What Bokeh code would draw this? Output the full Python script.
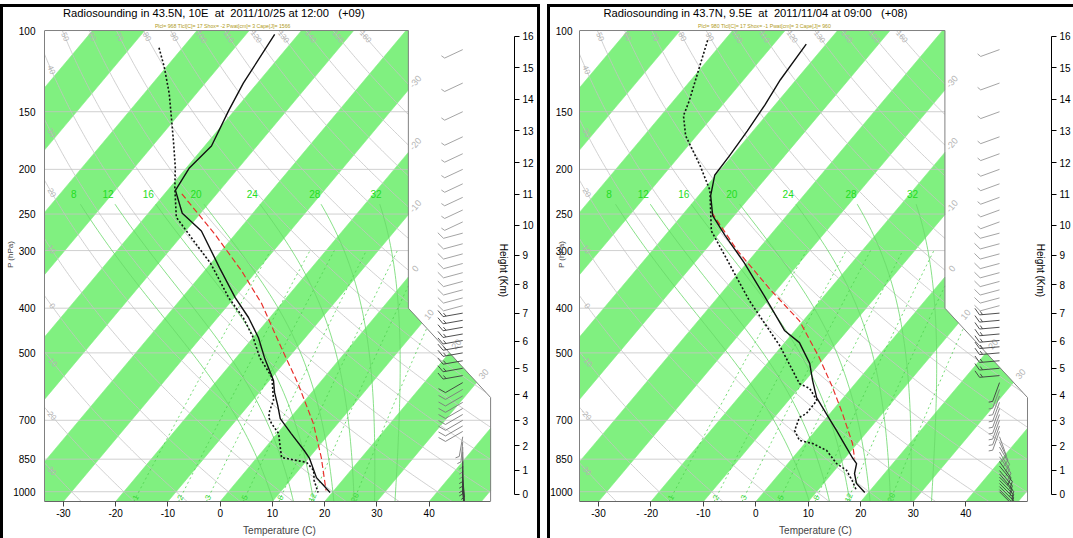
import numpy as np
from bokeh.plotting import figure
from bokeh.models import Range1d, FixedTicker, LogAxis, CustomJSTickFormatter, NumeralTickFormatter
from bokeh.layouts import row
from bokeh.embed import file_html
from bokeh.resources import INLINE
from bokeh.core.properties import value

FONT = "Liberation Sans"
NB = "\u00a0"

# ---------------------------------------------------------------- data
title_1 = "Radiosounding in 43.5N, 10E " + NB + "at " + NB + "2011/10/25 at 12:00 " + NB + NB + "(+09)"
info_1 = "Plcl= 968 Tlcl[C]= 17 Shox= -2 Pwat[cm]= 3 Cape[J]= 1566"
temp_p_1 = [102, 130, 149, 178, 199, 222, 249, 272, 327, 379, 419, 463, 512, 574, 609, 650, 694, 748, 814, 847, 932, 1004]
temp_t_1 = [-64.5, -62.7, -61.1, -58.7, -59.4, -58.5, -53.5, -47.0, -37.6, -29.9, -24.1, -19.0, -14.6, -9.2, -7.1, -4.4, -1.8, 2.7, 7.9, 10.2, 14.6, 19.6]
dew_p_1 = [109, 120, 137, 155, 176, 198, 220, 254, 290, 320, 380, 420, 463, 512, 565, 634, 667, 690, 711, 748, 786, 843, 864, 899, 945, 1004]
dew_t_1 = [-84.5, -80.4, -75.2, -70.8, -66.3, -62.2, -58.9, -54.0, -46.0, -40.0, -31.0, -25.0, -20.0, -15.5, -10.0, -6.0, -5.1, -4.2, -2.7, 0.3, 2.1, 4.7, 10.3, 12.9, 14.6, 17.3]
parcel_p_1 = [226, 276, 332, 391, 487, 583, 711, 843, 994]
parcel_t_1 = [-56.7, -44.0, -32.9, -23.8, -13.0, -4.0, 5.3, 12.3, 18.5]
wind_p_1 = [110, 130, 150, 170, 185, 200, 215, 230, 245, 260, 275, 290, 305, 320, 335, 350, 365, 380, 395,
            410, 425, 440, 455, 470, 485, 500, 520, 540, 560, 580, 600, 620, 640, 660, 680, 700, 720, 740,
            760, 780, 800, 820, 840, 860, 880, 900, 915, 930, 945, 960, 975, 990, 1000]
wind_s_1 = [5, 5, 5, 5, 5, 5, 5, 5, 5, 5, 10, 10, 10, 10, 10, 10, 10, 10, 10,
            15, 15, 15, 15, 15, 15, 15, 15, 15, 15, 10, 10, 10, 10, 10, 10, 10, 10, 10,
            5, 5, 5, 5, 5, 5, 5, 5, 5, 5, 5, 5, 5, 5, 5]
wind_d_1 = [245, 245, 245, 245, 245, 245, 245, 245, 245, 245, 255, 255, 255, 255, 255, 255, 255, 255, 255,
            260, 260, 260, 260, 260, 260, 260, 260, 260, 260, 240, 240, 240, 240, 240, 240, 240, 240, 240,
            190, 185, 180, 180, 180, 180, 180, 180, 180, 175, 175, 175, 175, 175, 175]

title_2 = "Radiosounding in 43.7N, 9.5E " + NB + "at " + NB + "2011/11/04 at 09:00 " + NB + NB + "(+08)"
info_2 = "Plcl= 980 Tlcl[C]= 17 Shox= -1 Pwat[cm]= 3 Cape[J]= 960"
temp_p_2 = [107, 128, 145, 165, 187, 206, 228, 252, 278, 319, 376, 447, 475, 527, 574, 625, 677, 737, 802, 843, 869, 913, 960, 1004]
temp_t_2 = [-63.8, -63.0, -61.9, -61.1, -60.5, -60.2, -57.7, -54.1, -48.6, -40.5, -31.4, -22.0, -17.2, -11.9, -8.6, -5.1, -0.7, 4.0, 8.6, 11.3, 13.1, 14.3, 16.3, 19.3]
dew_p_2 = [105, 142, 153, 169, 196, 222, 272, 385, 482, 583, 597, 634, 677, 690, 737, 774, 786, 814, 869, 899, 946, 994]
dew_t_2 = [-83.2, -77.0, -75.7, -72.1, -64.6, -58.7, -51.9, -33.5, -20.5, -10.6, -7.9, -4.6, -4.5, -5.2, -4.0, -1.5, 1.5, 5.3, 9.3, 12.3, 15.0, 17.4]
parcel_p_2 = [248, 300, 366, 426, 512, 594, 677, 786, 847]
parcel_t_2 = [-54.8, -43.8, -31.0, -20.7, -11.0, -3.7, 2.4, 9.1, 11.9]
wind_p_2 = wind_p_1
wind_s_2 = [5, 5, 5, 5, 5, 5, 5, 5, 5, 5, 10, 10, 10, 10, 10, 10, 10, 10, 10,
            15, 15, 15, 15, 15, 15, 15, 15, 15, 15, 5, 5, 5, 5, 5, 5, 5, 5, 5,
            10, 10, 10, 10, 10, 10, 10, 10, 10, 10, 10, 10, 10, 10, 10]
wind_d_2 = [250, 250, 250, 250, 250, 250, 250, 250, 250, 250, 255, 255, 255, 255, 255, 255, 255, 255, 255,
            265, 265, 265, 265, 265, 265, 265, 265, 265, 265, 200, 200, 200, 200, 200, 200, 200, 200, 200,
            160, 155, 150, 150, 145, 145, 140, 140, 140, 135, 135, 135, 135, 135, 135]

pressure_ticks = [100, 150, 200, 250, 300, 400, 500, 700, 850, 1000]
temperature_ticks = [-30, -20, -10, 0, 10, 20, 30, 40]
height_ticks_km = list(range(0, 17))
dry_adiabats_c = list(range(-30, 170, 10))
moist_adiabats_c = [8, 12, 16, 20, 24, 28, 32]
mixing_ratios = [1, 2, 3, 5, 8, 12, 20]
isotherm_labels = [-30, -20, -10, 0, 10, 20, 30]
band_starts = list(range(-120, 60, 20))

# ---------------------------------------------------------------- skew-T geometry (NCL)
P_BOT, P_TOP_BOX = 1050.0, 100.0
FW, FH = 472, 494          # frame size in px
SX = 9.718                 # px per skew-x unit
XL = -19.0
XR = XL + FW / SX
SY = 200.3                 # px per ln(p)
P_TOP = P_TOP_BOX * np.exp(-(FH - SY * np.log(P_BOT / P_TOP_BOX)) / SY)
P_MOIST_LABEL = 226.0


def ysk(p):
    return 132.182 - 44.061 * np.log10(p)


def xsk(t, p):
    return 0.54 * np.asarray(t, dtype=float) + 0.90692 * ysk(np.asarray(p, dtype=float))


def p_of_y(y):
    return 10 ** ((132.182 - np.asarray(y, dtype=float)) / 44.061)


YMIN, YMAX = ysk(P_BOT), ysk(P_TOP_BOX)
XB_R, XB_N, Y_D0, Y_D1 = 27.1, 18.6, 9.0, 17.53
SYU = SY * np.log(10) / 44.061   # px per skew-y unit


def xr_of(y):
    if y <= Y_D0:
        return XB_R
    if y >= Y_D1:
        return XB_N
    return XB_R + (XB_N - XB_R) * (y - Y_D0) / (Y_D1 - Y_D0)


def inside(x, y):
    e = 1e-9
    return (YMIN - e <= y <= YMAX + e) and (XL - e <= x <= xr_of(y) + e)


def clip_polyline(xs, ys):
    segs, cur = [], []
    for i in range(len(xs)):
        x, y = xs[i], ys[i]
        ins = inside(x, y)
        if i > 0:
            x0, y0 = xs[i - 1], ys[i - 1]
            pins = inside(x0, y0)
            if ins != pins:
                a, b = 0.0, 1.0
                for _ in range(40):
                    m = 0.5 * (a + b)
                    if inside(x0 + (x - x0) * m, y0 + (y - y0) * m) == pins:
                        a = m
                    else:
                        b = m
                m = a if pins else b
                cp = (x0 + (x - x0) * m, y0 + (y - y0) * m)
                if pins:
                    cur.append(cp)
                    segs.append(cur)
                    cur = []
                else:
                    cur = [cp]
        if ins:
            cur.append((x, y))
    if cur:
        segs.append(cur)
    return [s for s in segs if len(s) > 1]


def clip_convex(poly, clip):
    out = list(poly)
    n = len(clip)
    for i in range(n):
        a, b = clip[i], clip[(i + 1) % n]

        def side(q):
            return (b[0] - a[0]) * (q[1] - a[1]) - (b[1] - a[1]) * (q[0] - a[0])
        inp, out = out, []
        if not inp:
            break
        s = inp[-1]
        for e in inp:
            se, ss = side(e), side(s)
            if se >= 0:
                if ss < 0:
                    t = ss / (ss - se)
                    out.append((s[0] + t * (e[0] - s[0]), s[1] + t * (e[1] - s[1])))
                out.append(e)
            elif ss >= 0:
                t = ss / (ss - se)
                out.append((s[0] + t * (e[0] - s[0]), s[1] + t * (e[1] - s[1])))
            s = e
    return out


LOWER = [(XL, YMIN), (XB_R, YMIN), (XB_R, Y_D0), (XB_N, Y_D1), (XL, Y_D1)]
UPPER = [(XL, Y_D1), (XB_N, Y_D1), (XB_N, YMAX), (XL, YMAX)]


def moist_curve(tw, plist, p0=1000.0):
    Rd, cp, Lv, eps = 287.04, 1005.7, 2.501e6, 0.622

    def f(T, lnp):
        p = np.exp(lnp)
        Tc = T - 273.15
        e = 6.112 * np.exp(17.67 * Tc / (Tc + 243.5))
        r = eps * e / (p - e)
        return (Rd * T + Lv * r) / (cp + Lv * Lv * r * eps / (Rd * T * T))
    res = []
    for pt in plist:
        T = tw + 273.15
        l0, l1 = np.log(p0), np.log(pt)
        n = 40
        h = (l1 - l0) / n
        l = l0
        for _ in range(n):
            k1 = f(T, l)
            k2 = f(T + 0.5 * h * k1, l + 0.5 * h)
            k3 = f(T + 0.5 * h * k2, l + 0.5 * h)
            k4 = f(T + h * k3, l + h)
            T += h * (k1 + 2 * k2 + 2 * k3 + k4) / 6
            l += h
        res.append(T - 273.15)
    return np.array(res)


def td_of_w(w, p):
    e = w * p / (622.0 + w)
    a = np.log(e / 6.112)
    return 243.5 * a / (17.67 - a)


def std_p(z_km):
    z = z_km * 1000.0
    if z <= 11000:
        return 1013.25 * (1 - 0.0065 * z / 288.15) ** 5.2559
    return 226.32 * np.exp(-(z - 11000) / 6341.6)


GREEN_BAND = "#80f080"
GRAY_LINE = "#c4c4c4"


def barb_segments(xb, pb, spd, ddir, L=20.0, F=8.0):
    th = np.deg2rad(ddir)
    ux, uy = np.sin(th), np.cos(th)
    px_, py_ = uy, -ux
    fx, fy = 0.85 * px_ + 0.5 * ux, 0.85 * py_ + 0.5 * uy
    nrm = np.hypot(fx, fy)
    fx, fy = fx / nrm, fy / nrm
    segs = [[(0.0, 0.0), (ux * L, uy * L)]]
    s = int(round(spd / 5.0)) * 5
    pos = L
    while s >= 50:
        segs.append([(ux * pos, uy * pos), (ux * pos + F * px_, uy * pos + F * py_), (ux * (pos - 4), uy * (pos - 4))])
        pos -= 5
        s -= 50
    while s >= 10:
        segs.append([(ux * pos, uy * pos), (ux * pos + F * fx, uy * pos + F * fy)])
        pos -= 3
        s -= 10
    if s >= 5:
        segs.append([(ux * pos, uy * pos), (ux * pos + 0.5 * F * fx, uy * pos + 0.5 * F * fy)])
    xs, ys = [], []
    for sg in segs:
        xs.append([xb + dx / SX for dx, dy in sg])
        ys.append([pb * np.exp(-dy / SY) for dx, dy in sg])
    return xs, ys


def make_panel(title, info, tp, tt, dp, dt, pp, pt, wp, ws, wd, width, left, right, lab_standoff,
               axlab_standoff, border, title_off):
    fig = figure(width=width, height=534, x_range=Range1d(XL, XR), y_range=Range1d(P_BOT, P_TOP),
                 y_axis_type="log", output_backend="svg", toolbar_location=None,
                 min_border_left=left, min_border_right=right, min_border_top=0,
                 min_border_bottom=534 - FH, outline_line_color=None, styles=border)
    fig.grid.visible = False

    # isotherm bands
    bx, by = [], []
    for t0 in band_starts:
        poly = [(0.54 * t0 + 0.90692 * YMIN, YMIN), (0.54 * (t0 + 10) + 0.90692 * YMIN, YMIN),
                (0.54 * (t0 + 10) + 0.90692 * YMAX, YMAX), (0.54 * t0 + 0.90692 * YMAX, YMAX)]
        for piece in (LOWER, UPPER):
            c = clip_convex(poly, piece)
            if len(c) >= 3:
                bx.append([q[0] for q in c])
                by.append(list(p_of_y([q[1] for q in c])))
    fig.patches(bx, by, fill_color=GREEN_BAND, line_color=GREEN_BAND, line_width=0.6)

    # isobars
    ix, iy = [], []
    for pr in pressure_ticks[1:]:
        ix.append([XL, xr_of(ysk(pr))])
        iy.append([pr, pr])
    fig.multi_line(ix, iy, line_color=GRAY_LINE, line_width=0.8)

    # dry adiabats
    plin = np.exp(np.linspace(np.log(P_BOT), np.log(P_TOP_BOX), 300))
    dx_, dy_ = [], []
    lab_x, lab_y, lab_t, lab_a = [], [], [], []
    for th in dry_adiabats_c:
        tc = (th + 273.15) * (plin / 1000.0) ** 0.2857 - 273.15
        segs = clip_polyline(list(xsk(tc, plin)), list(ysk(plin)))
        for s in segs:
            dx_.append([q[0] for q in s])
            dy_.append(list(p_of_y([q[1] for q in s])))
        if segs:
            s = segs[-1]
            ex, ey = s[-1]
            xs_ = np.array([q[0] for q in s])
            ys_ = np.array([q[1] for q in s])
            if abs(ex - XL) < 1e-6:
                target = XL + 7.0 / SX
                k = np.argmin(np.abs(xs_ - target))
            else:
                target = YMAX - 7.0 / SYU
                k = np.argmin(np.abs(ys_ - target))
            k = max(1, min(k, len(s) - 1))
            ang = np.arctan2((ys_[k - 1] - ys_[k]) * SYU, (xs_[k - 1] - xs_[k]) * SX)
            lab_x.append(xs_[k])
            lab_y.append(float(p_of_y(ys_[k])))
            lab_t.append(str(th))
            lab_a.append(float(ang))
    fig.multi_line(dx_, dy_, line_color=GRAY_LINE, line_width=0.8)
    fig.text(lab_x, lab_y, text=lab_t, angle=lab_a, text_font=value(FONT), text_font_size="8px",
             text_color="#b4b4b4", text_align="center", text_baseline="middle")

    # mixing ratio lines
    pmix = np.exp(np.linspace(np.log(P_BOT), np.log(300.0), 120))
    mx, my = [], []
    mlx, mly, mlt, mla = [], [], [], []
    for w in mixing_ratios:
        td = td_of_w(w, pmix)
        for s in clip_polyline(list(xsk(td, pmix)), list(ysk(pmix))):
            mx.append([q[0] for q in s])
            my.append(list(p_of_y([q[1] for q in s])))
        pl = 1030.0
        x0 = float(xsk(td_of_w(w, pl), pl))
        x1 = float(xsk(td_of_w(w, pl * 0.97), pl * 0.97))
        ang = np.arctan2(np.log(1 / 0.97) * SY, (x1 - x0) * SX)
        mlx.append(x0)
        mly.append(pl)
        mlt.append(str(w))
        mla.append(float(ang))
    fig.multi_line(mx, my, line_color="#4cd04c", line_width=0.8, line_dash="2 3")
    fig.text(mlx, mly, text=mlt, angle=mla, text_font=value(FONT), text_font_size="8px",
             text_color="#3ad83a", text_align="center", text_baseline="middle")

    # moist adiabats
    pm = np.exp(np.linspace(np.log(P_BOT), np.log(238.0), 80))
    qx, qy = [], []
    qlx, qly, qlt = [], [], []
    for tw in moist_adiabats_c:
        tm = moist_curve(tw, pm)
        for s in clip_polyline(list(xsk(tm, pm)), list(ysk(pm))):
            qx.append([q[0] for q in s])
            qy.append(list(p_of_y([q[1] for q in s])))
        tl = moist_curve(tw, [P_MOIST_LABEL])[0]
        qlx.append(float(xsk(tl, P_MOIST_LABEL)))
        qly.append(P_MOIST_LABEL)
        qlt.append(str(tw))
    fig.multi_line(qx, qy, line_color="#6ad86a", line_width=0.8)
    fig.text(qlx, qly, text=qlt, text_font=value(FONT), text_font_size="10px",
             text_color="#22dd22", text_align="center", text_baseline="middle")

    # isotherm labels along right boundary
    ilx, ily, ilt = [], [], []
    iang = np.arctan2(SYU, 0.90692 * SX)
    dist = 11.0 / np.hypot(SYU, 0.90692 * SX)
    for t in isotherm_labels:
        y = (XB_N - 0.54 * t) / 0.90692
        if not (Y_D1 <= y <= YMAX):
            tt_ = (0.54 * t + 0.90692 * Y_D0 - XB_R) / (XB_N - XB_R - 0.90692 * (Y_D1 - Y_D0))
            y = Y_D0 + (Y_D1 - Y_D0) * tt_
        y2 = y + dist
        ilx.append(0.54 * t + 0.90692 * y2)
        ily.append(float(p_of_y(y2)))
        ilt.append(str(t))
    fig.text(ilx, ily, text=ilt, angle=float(iang), text_font=value(FONT), text_font_size="9px",
             text_color="#b4b4b4", text_align="center", text_baseline="middle")

    # outline (right part)
    ox = [XB_R, XB_R, XB_N, XB_N, XL]
    oy = list(p_of_y([YMIN, Y_D0, Y_D1, YMAX, YMAX]))
    fig.line(ox, oy, line_color="#808080", line_width=1)

    # sounding
    fig.line(list(xsk(pt, pp)), pp, line_color="#e8302c", line_width=1.2, line_dash="6 3")
    fig.line(list(xsk(dt, dp)), dp, line_color="#111111", line_width=1.6, line_dash="2 2")
    fig.line(list(xsk(tt, tp)), tp, line_color="#111111", line_width=1.4)

    # wind barbs
    wx, wy, wc = [], [], []
    xb = XL + (462 - 42) / SX
    for prs, sp, dd in zip(wp, ws, wd):
        a, b = barb_segments(xb, prs, sp, dd)
        wx += a
        wy += b
        col = "#9a9a9a" if prs < 400 else ("#3c3c3c" if prs < 600 or prs >= 850 else "#7a7a7a")
        wc += [col] * len(a)
    fig.multi_line(wx, wy, line_color=wc, line_width=0.9)

    # texts
    fig.text([XL + title_off / SX], [P_TOP * np.exp(5 / SY)], text=[title], text_font=value(FONT),
             text_font_size="11.2px", text_color="black", text_align="center", text_baseline="middle")
    fig.text([XL + (title_off + 9) / SX], [P_TOP * np.exp(18 / SY)], text=[info], text_font=value(FONT),
             text_font_size="5.2px", text_color="#b09a1a", text_align="center", text_baseline="middle")
    fig.text([XL + (503 - 42) / SX], [P_TOP * np.exp(263 / SY)], text=["Height (Km)"], angle=-np.pi / 2,
             text_font=value(FONT), text_font_size="10px", text_color="black", text_align="center",
             text_baseline="middle")

    # axes
    ax = fig.xaxis[0]
    ax.ticker = FixedTicker(ticks=[float(xsk(t, P_BOT)) for t in temperature_ticks])
    ax.formatter = CustomJSTickFormatter(code="return Math.round((tick - 0.90692*(%f))/0.54).toString();" % YMIN)
    ax.bounds = (XL, XB_R)
    ax.axis_line_color = "#666666"
    ax.major_tick_line_color = "#444444"
    ax.major_tick_out = 5
    ax.major_tick_in = 0
    ax.minor_tick_line_color = None
    ax.major_label_standoff = 2
    ax.major_label_text_font = FONT
    ax.major_label_text_font_size = "10px"
    ax.major_label_text_color = "black"
    ax.axis_label = "Temperature (C)"
    ax.axis_label_text_font = FONT
    ax.axis_label_text_font_size = "10px"
    ax.axis_label_text_font_style = "normal"
    ax.axis_label_standoff = 5

    ay = fig.yaxis[0]
    ay.ticker = FixedTicker(ticks=pressure_ticks)
    ay.formatter = NumeralTickFormatter(format="0")
    ay.bounds = (P_TOP_BOX, P_BOT)
    ay.axis_line_color = "#808080"
    ay.major_tick_line_color = None
    ay.minor_tick_line_color = None
    ay.major_tick_out = 0
    ay.major_tick_in = 0
    ay.major_label_standoff = lab_standoff
    ay.major_label_text_font = FONT
    ay.major_label_text_font_size = "10px"
    ay.major_label_text_color = "black"
    ay.axis_label = "P (hPa)"
    ay.axis_label_text_font = FONT
    ay.axis_label_text_font_size = "8px"
    ay.axis_label_text_font_style = "normal"
    ay.axis_label_standoff = axlab_standoff

    hz = [round(std_p(z), 4) for z in height_ticks_km]
    ar = LogAxis(ticker=FixedTicker(ticks=hz), bounds=(hz[-1], hz[0]))
    ar.formatter = CustomJSTickFormatter(code="""
        let z;
        if (tick >= 226.32) { z = 288.15/0.0065*(1 - Math.pow(tick/1013.25, 1/5.2559)); }
        else { z = 11000 - 6341.6*Math.log(tick/226.32); }
        return Math.round(z/1000).toString();""")
    ar.axis_line_color = "black"
    ar.major_tick_line_color = "black"
    ar.minor_tick_line_color = None
    ar.major_tick_out = 5
    ar.major_tick_in = 0
    ar.major_label_standoff = 3
    ar.major_label_text_font = FONT
    ar.major_label_text_font_size = "10px"
    ar.major_label_text_color = "black"
    fig.add_layout(ar, "right")
    return fig


p1 = make_panel(title_1, info_1, temp_p_1, temp_t_1, dew_p_1, dew_t_1, parcel_p_1, parcel_t_1,
                wind_p_1, wind_s_1, wind_d_1, 540, 39, 540 - 39 - FW, 9, -5,
                {"border-left": "3px solid black", "border-top": "3px solid black",
                 "border-right": "3px solid black", "margin-top": "4px"}, 170)
p2 = make_panel(title_2, info_2, temp_p_2, temp_t_2, dew_p_2, dew_t_2, parcel_p_2, parcel_t_2,
                wind_p_2, wind_s_2, wind_d_2, 526, 29, 526 - 29 - FW, 7, -19,
                {"border-left": "3px solid black", "border-top": "3px solid black", "margin-top": "4px"}, 176)

layout = row(p1, p2, spacing=7)
open("out.html", "w").write(file_html(layout, INLINE))
